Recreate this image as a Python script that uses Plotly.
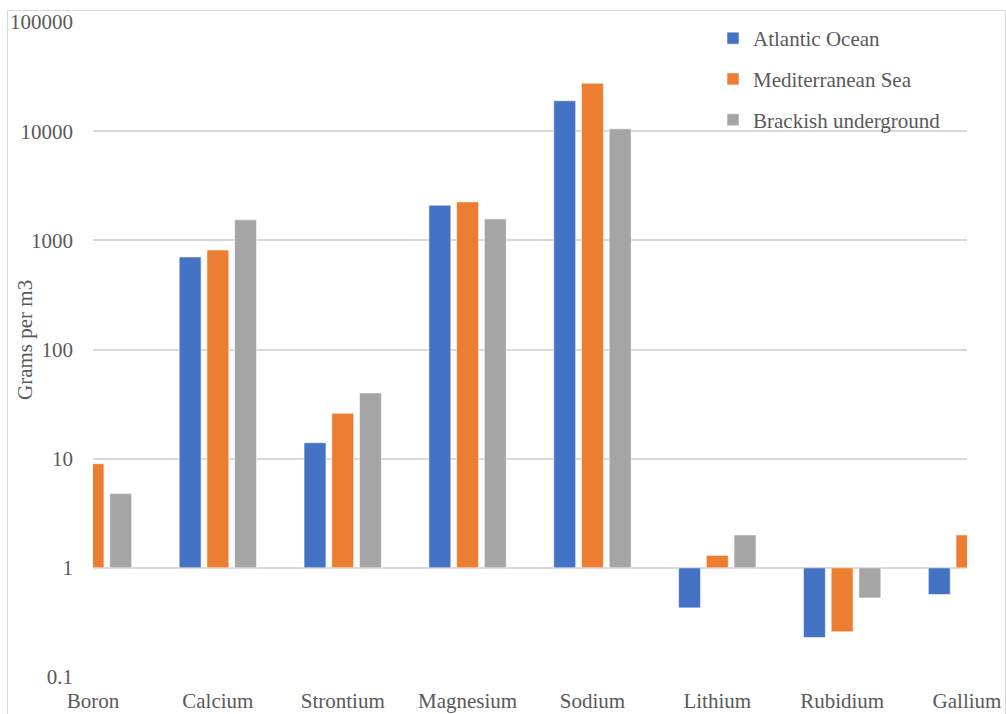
import numpy as np
import plotly.graph_objects as go

# Element concentrations in three water sources (grams per m3)
categories = ["Boron", "Calcium", "Strontium", "Magnesium", "Sodium",
              "Lithium", "Rubidium", "Gallium"]
atlantic = [None, 705, 14, 2100, 19000, 0.43, 0.23, 0.57]
mediterranean = [9, 815, 26, 2250, 27500, 1.3, 0.26, 2]
brackish = [4.8, 1540, 40, 1570, 10500, 2, 0.53, None]

series_names = ["Atlantic Ocean", "Mediterranean Sea", "Brackish underground"]
series_values = [atlantic, mediterranean, brackish]
series_colors = ["#4472C4", "#ED7D31", "#A5A5A5"]

tick_vals = [0.1, 1, 10, 100, 1000, 10000, 100000]
tick_text = ["0.1", "1", "10", "100", "1000", "10000", "100000"]

FONT = "Liberation Serif, Times New Roman, serif"
TEXT = "#595959"
GRID = "#D9D9D9"

# bars are anchored at 1 on the log axis, so values below 1 hang downward
BASE = 1.0

fig = go.Figure()
for i, (name, vals, col) in enumerate(zip(series_names, series_values, series_colors)):
    v = np.array([np.nan if x is None else x for x in vals], dtype=float)
    fig.add_trace(go.Bar(
        x=categories,
        y=v - BASE,
        base=BASE,
        name=name,
        legendgroup=f"g{i}",
        marker=dict(color=col, line=dict(color="rgba(255,255,255,0.55)", width=1)),
        customdata=v,
        hovertemplate="%{x}: %{customdata}<extra>" + name + "</extra>",
    ))

W, H = 1006, 714
L, R, T, B = 93, 39, 22, 37
pw, ph = W - L - R, H - T - B


def px_x(p):
    return (p - L) / pw


def px_y(p):
    return (H - B - p) / ph


fig.update_layout(
    width=W, height=H,
    margin=dict(l=L, r=R, t=T, b=B, autoexpand=False),
    paper_bgcolor="white",
    plot_bgcolor="white",
    barmode="group",
    bargap=0.334,
    bargroupgap=0.21,
    font=dict(family=FONT, size=21, color=TEXT),
    showlegend=True,
    legend=dict(
        x=px_x(713), y=px_y(18), xanchor="left", yanchor="top",
        bgcolor="rgba(0,0,0,0)",
        font=dict(family=FONT, size=21, color=TEXT),
        tracegroupgap=10.5,
        traceorder="grouped",
    ),
    xaxis=dict(
        type="category",
        range=[0, len(categories) - 1],
        automargin=False,
        showgrid=False, showline=False, zeroline=False,
        ticks="",
        ticklabelstandoff=9,
        tickfont=dict(family=FONT, size=21, color=TEXT),
        fixedrange=True,
    ),
    yaxis=dict(
        type="log",
        range=[-1, 5],
        automargin=False,
        tickvals=tick_vals,
        ticktext=tick_text,
        showgrid=True, gridcolor=GRID, gridwidth=1.5,
        showline=False, zeroline=False,
        ticks="",
        ticklabelstandoff=19,
        tickfont=dict(family=FONT, size=21, color=TEXT),
        fixedrange=True,
    ),
    annotations=[dict(
        text="Grams per m3",
        xref="paper", yref="paper",
        x=px_x(25), y=px_y(340),
        xanchor="center", yanchor="middle",
        textangle=-90, showarrow=False,
        font=dict(family=FONT, size=21, color=TEXT),
    )],
    shapes=[dict(
        type="rect", xref="paper", yref="paper",
        x0=px_x(7.5), x1=px_x(1005.5), y0=px_y(730), y1=px_y(10.5),
        line=dict(color=GRID, width=1), fillcolor="rgba(0,0,0,0)",
        layer="below",
    )],
)

fig.write_html("out.html")
